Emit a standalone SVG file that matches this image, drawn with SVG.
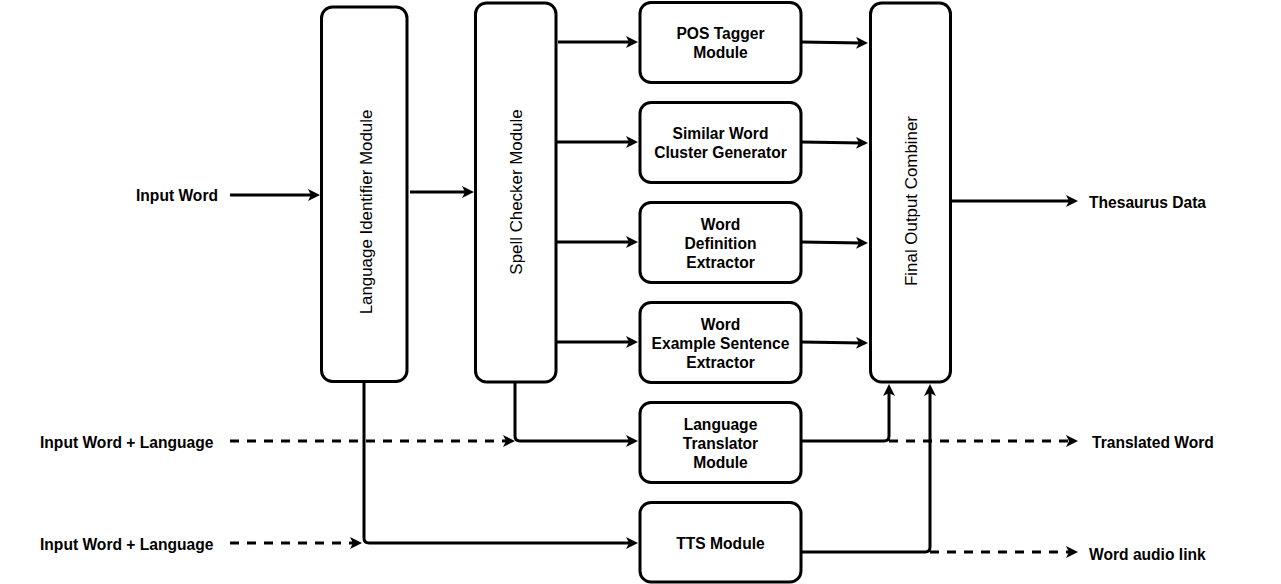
<svg xmlns="http://www.w3.org/2000/svg" width="1281" height="584" viewBox="0 0 1281 584">
<style>
.box{fill:#fff;stroke:#000;stroke-width:3}
.b{font-family:"Liberation Sans",Arial,Helvetica,sans-serif;font-size:15.6px;font-weight:bold;fill:#000;dominant-baseline:central}
.r{font-family:"Liberation Sans",Arial,Helvetica,sans-serif;font-size:16.9px;fill:#000;dominant-baseline:central;text-anchor:middle}
.c{text-anchor:middle}
.ln{fill:none;stroke:#000;stroke-width:3}
.d{stroke-dasharray:9 8}
</style>
<defs>
<marker id="ah" markerUnits="userSpaceOnUse" markerWidth="14" markerHeight="14" refX="6" refY="6" orient="auto">
<path d="M0,0 L12,6 L0,12 L3,6 Z" fill="#000"/>
</marker>
</defs>
<rect width="1281" height="584" fill="#fff"/>

<g id="connectors">
<path class="ln" d="M230,195 H314" marker-end="url(#ah)"/>
<path class="ln" d="M410,192 H468" marker-end="url(#ah)"/>
<path class="ln" d="M558,42 H632" marker-end="url(#ah)"/>
<path class="ln" d="M556,142 H632" marker-end="url(#ah)"/>
<path class="ln" d="M556,242 H632" marker-end="url(#ah)"/>
<path class="ln" d="M556,342 H632" marker-end="url(#ah)"/>
<path class="ln" d="M801,42 L862,43" marker-end="url(#ah)"/>
<path class="ln" d="M801,142 L862,143" marker-end="url(#ah)"/>
<path class="ln" d="M801,242 L862,243" marker-end="url(#ah)"/>
<path class="ln" d="M801,342 L862,343" marker-end="url(#ah)"/>
<path class="ln" d="M951,201 H1072" marker-end="url(#ah)"/>
<path class="ln" d="M801,441 H884 Q889,441 889,436 V390" marker-end="url(#ah)"/>
<path class="ln d" d="M889,441 H1072" marker-end="url(#ah)"/>
<path class="ln" d="M801,552 H925 Q930,552 930,547 V390" marker-end="url(#ah)"/>
<path class="ln d" d="M930,552 H1072" marker-end="url(#ah)"/>
<path class="ln d" d="M230,441 H509" marker-end="url(#ah)"/>
<path class="ln" d="M515,382 V436 Q515,441 520,441 H632" marker-end="url(#ah)"/>
<path class="ln d" d="M230,543 H356" marker-end="url(#ah)"/>
<path class="ln" d="M364,381 V538 Q364,543 369,543 H632" marker-end="url(#ah)"/>
</g>

<g id="lang-identifier">
<rect class="box" x="321.5" y="7" width="85.5" height="374.5" rx="11"/>
<text class="r" transform="translate(366,212) rotate(-90)">Language Identifier Module</text>
</g>
<g id="spell-checker">
<rect class="box" x="475.5" y="3" width="80.5" height="379" rx="11"/>
<text class="r" transform="translate(516,192) rotate(-90)">Spell Checker Module</text>
</g>
<g id="pos-tagger">
<rect class="box" x="640" y="2.5" width="161" height="80" rx="11"/>
<text class="b c" x="720.5" y="33">POS Tagger</text>
<text class="b c" x="720.5" y="52">Module</text>
</g>
<g id="similar-word">
<rect class="box" x="640" y="102.5" width="161" height="80" rx="11"/>
<text class="b c" x="720.5" y="133">Similar Word</text>
<text class="b c" x="720.5" y="152">Cluster Generator</text>
</g>
<g id="definition">
<rect class="box" x="640" y="202.5" width="161" height="80" rx="11"/>
<text class="b c" x="720.5" y="224">Word</text>
<text class="b c" x="720.5" y="243">Definition</text>
<text class="b c" x="720.5" y="262">Extractor</text>
</g>
<g id="example">
<rect class="box" x="640" y="302.5" width="161" height="80" rx="11"/>
<text class="b c" x="720.5" y="324">Word</text>
<text class="b c" x="720.5" y="343">Example Sentence</text>
<text class="b c" x="720.5" y="362">Extractor</text>
</g>
<g id="translator">
<rect class="box" x="640" y="402.5" width="161" height="80" rx="11"/>
<text class="b c" x="720.5" y="424">Language</text>
<text class="b c" x="720.5" y="443">Translator</text>
<text class="b c" x="720.5" y="462">Module</text>
</g>
<g id="tts">
<rect class="box" x="640" y="502.5" width="161" height="79.5" rx="11"/>
<text class="b c" x="720.5" y="543">TTS Module</text>
</g>
<g id="final-combiner">
<rect class="box" x="870.5" y="3" width="80" height="379" rx="11"/>
<text class="r" transform="translate(911,201) rotate(-90)">Final Output Combiner</text>
</g>

<g id="labels">
<text class="b" x="136" y="195">Input Word</text>
<text class="b" x="40" y="442">Input Word + Language</text>
<text class="b" x="40" y="544">Input Word + Language</text>
<text class="b" x="1089" y="202">Thesaurus Data</text>
<text class="b" x="1092" y="442">Translated Word</text>
<text class="b" x="1089" y="554">Word audio link</text>
</g>
</svg>
